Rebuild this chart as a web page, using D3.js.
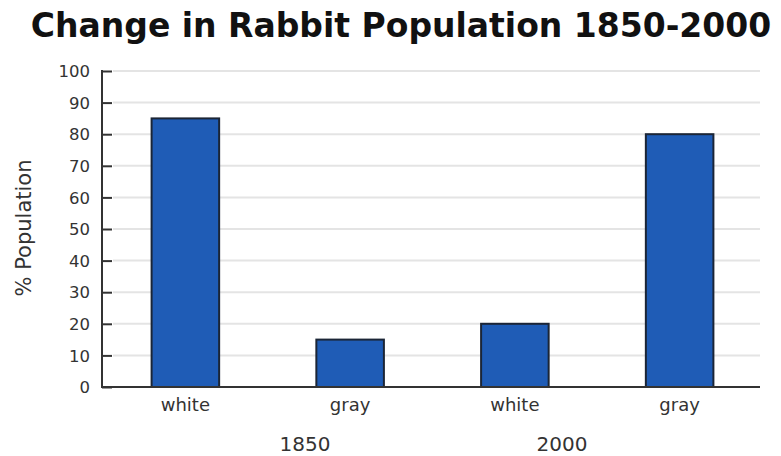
<!DOCTYPE html>
<html>
<head>
<meta charset="utf-8">
<script src="https://cdn.jsdelivr.net/npm/d3@7"></script>
<style>
  body { margin: 0; background: #fff; }
  text { font-family: "DejaVu Sans", Verdana, sans-serif; }
  .grid line { stroke: #e4e4e4; stroke-width: 2; }
</style>
</head>
<body>
<div id="chart"></div>
<script>
// chart data
var title = 'Change in Rabbit Population 1850-2000';
var yLabel = '% Population';
var years = ['1850', '2000'];
var colours = ['white', 'gray', 'white', 'gray'];
var barYears = ['1850', '1850', '2000', '2000'];
var values = [85, 15, 20, 80];
var yTicks = [0, 10, 20, 30, 40, 50, 60, 70, 80, 90, 100];

var width = 781, height = 456;
var margin = { top: 72, right: 21, bottom: 70, left: 102 };

var svg = d3.select('#chart').append('svg')
    .attr('width', width)
    .attr('height', height);

var data = values.map(function (v, i) {
  return { key: barYears[i] + '-' + colours[i], colour: colours[i], year: barYears[i], value: v };
});

var x = d3.scaleBand()
    .domain(data.map(function (d) { return d.key; }))
    .range([margin.left + 1, width - margin.right + 2])
    .paddingInner(0.59)
    .paddingOuter(0.295);

var y = d3.scaleLinear()
    .domain([0, 100])
    .range([height - margin.bottom + 1, margin.top - 1]);

// group label positions (not centred under their bars in the original)
var yearX = d3.scalePoint()
    .domain(years)
    .range([305, 562]);

// title
svg.append('text')
    .attr('x', 401)
    .attr('y', 37)
    .attr('text-anchor', 'middle')
    .style('font-size', '33px')
    .style('font-weight', 'bold')
    .style('fill', '#111')
    .text(title);

// grid
svg.append('g')
    .attr('class', 'grid')
    .selectAll('line')
    .data(yTicks.filter(function (d) { return d > 0; }))
    .enter()
    .append('line')
    .attr('x1', margin.left + 11)
    .attr('x2', width - margin.right)
    .attr('y1', function (d) { return y(d); })
    .attr('y2', function (d) { return y(d); });

// bars
svg.selectAll('.bar')
    .data(data)
    .enter()
    .append('rect')
    .attr('class', 'bar')
    .attr('x', function (d) { return x(d.key); })
    .attr('y', function (d) { return y(d.value); })
    .attr('width', x.bandwidth())
    .attr('height', function (d) { return y(0) - y(d.value); })
    .style('fill', '#1f5cb6')
    .style('stroke', '#1b2536')
    .style('stroke-width', 2);

// y axis
var yAxis = d3.axisRight(y)
    .tickValues(yTicks)
    .tickSize(10)
    .tickFormat(function (d) { return d; });

var yG = svg.append('g')
    .attr('transform', 'translate(' + margin.left + ',0)')
    .call(yAxis);

yG.select('.domain').remove();
yG.selectAll('.tick line').attr('stroke', '#333').attr('stroke-width', 2);
yG.selectAll('.tick text')
    .attr('x', -12)
    .attr('dy', '0.35em')
    .attr('text-anchor', 'end')
    .style('font-size', '16.5px')
    .style('font-family', '"DejaVu Sans", Verdana, sans-serif')
    .style('fill', '#333');

yG.append('line')
    .attr('x1', 0).attr('x2', 0)
    .attr('y1', y(100) - 1).attr('y2', y(0))
    .attr('stroke', '#333').attr('stroke-width', 2);

// baseline
svg.append('line')
    .attr('x1', margin.left - 1)
    .attr('x2', width - margin.right)
    .attr('y1', y(0))
    .attr('y2', y(0))
    .attr('stroke', '#333')
    .attr('stroke-width', 2);

// colour labels, centred vertically like the original
svg.selectAll('.cat')
    .data(data)
    .enter()
    .append('text')
    .attr('class', 'cat')
    .attr('x', function (d) { return x(d.key) + x.bandwidth() / 2; })
    .attr('y', 404)
    .attr('text-anchor', 'middle')
    .style('font-size', '18px')
    .style('fill', '#333')
    .text(function (d) { return d.colour; })
    .each(function () {
      var b = this.getBBox();
      var shift = 404 - (b.y + b.height / 2);
      d3.select(this).attr('y', 404 + shift);
    });

// year labels
svg.selectAll('.year')
    .data(years)
    .enter()
    .append('text')
    .attr('class', 'year')
    .attr('x', function (d) { return yearX(d); })
    .attr('y', 451)
    .attr('text-anchor', 'middle')
    .style('font-size', '20px')
    .style('fill', '#333')
    .text(function (d) { return d; });

// y label
svg.append('text')
    .attr('transform', 'translate(31,' + 228 + ') rotate(-90)')
    .attr('text-anchor', 'middle')
    .style('font-size', '21px')
    .style('fill', '#333')
    .text(yLabel);
</script>
</body>
</html>
